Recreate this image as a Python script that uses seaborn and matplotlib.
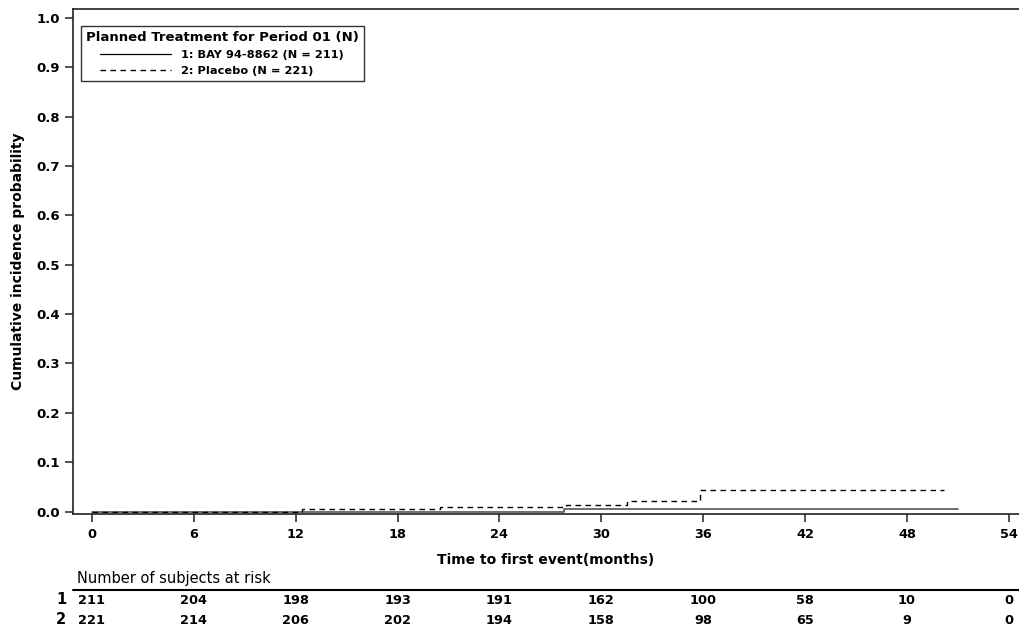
import numpy as np
import pandas as pd
import matplotlib
matplotlib.use("Agg")
import matplotlib.pyplot as plt
import matplotlib.transforms as mtransforms
import seaborn as sns

# ---- data ----
group_labels = ["1: BAY 94-8862 (N = 211)", "2: Placebo (N = 221)"]
bay_time = [0.0, 27.8, 51.0]
bay_cif = [0.0, 0.0050, 0.0050]
pla_time = [0.0, 12.4, 20.5, 27.9, 31.5, 35.8, 50.2]
pla_cif = [0.0, 0.0047, 0.0095, 0.0145, 0.0225, 0.0430, 0.0430]
x_ticks = [0, 6, 12, 18, 24, 30, 36, 42, 48, 54]
y_ticks = [0.0, 0.1, 0.2, 0.3, 0.4, 0.5, 0.6, 0.7, 0.8, 0.9, 1.0]
risk_bay = [211, 204, 198, 193, 191, 162, 100, 58, 10, 0]
risk_pla = [221, 214, 206, 202, 194, 158, 98, 65, 9, 0]
risk_rows = ["1", "2"]

df = pd.concat([
    pd.DataFrame({"time": bay_time, "cif": bay_cif, "group": group_labels[0]}),
    pd.DataFrame({"time": pla_time, "cif": pla_cif, "group": group_labels[1]}),
], ignore_index=True)

sns.set_theme(style="white")
plt.rcParams['font.family'] = ['DejaVu Sans']
plt.rcParams.update({"text.color": "black", "axes.labelcolor": "black",
                     "xtick.color": "black", "ytick.color": "black"})

W, H = 1019, 628
fig = plt.figure(figsize=(W / 100, H / 100), dpi=100)
ax = fig.add_axes([72.5 / W, 1 - 514 / H, (W - 72.5) / W, (514 - 9) / H])

ax.set_xlim(-1.14, 54.6)
ax.set_ylim(-0.0047, 1.0177)

sub_bay = df[df["group"] == group_labels[0]]
sub_pla = df[df["group"] == group_labels[1]]
sns.lineplot(data=sub_bay, x="time", y="cif", ax=ax, drawstyle="steps-post",
             estimator=None, color="#555555", lw=1.2, label=group_labels[0])
sns.lineplot(data=sub_pla, x="time", y="cif", ax=ax, drawstyle="steps-post",
             estimator=None, color="black", lw=1.0, label=group_labels[1])
ax.lines[1].set_linestyle((0, (4, 3.2)))

# axes styling
for s in ["left", "bottom", "top"]:
    ax.spines[s].set_visible(True)
    ax.spines[s].set_color("#222222")
    ax.spines[s].set_linewidth(1.2)
ax.spines["right"].set_visible(False)

ax.set_xticks(x_ticks)
ax.set_yticks(y_ticks)
ax.set_yticklabels([f"{v:.1f}" for v in y_ticks])
ax.tick_params(axis="both", which="major", direction="out", length=6, width=1.1,
               color="#222222", bottom=True, left=True)
ax.tick_params(axis="y", labelsize=9.5, pad=3)
ax.tick_params(axis="x", labelsize=9.3, pad=4)
for t in ax.get_yticklabels():
    t.set_fontweight("bold")
for t in ax.get_xticklabels():
    t.set_fontweight("bold")

ax.set_xlabel("Time to first event(months)", fontsize=10, fontweight="bold")
ax.set_ylabel("Cumulative incidence probability", fontsize=10, fontweight="bold")
ax.xaxis.set_label_coords(0.5, -(553 - 514) / (514 - 9), transform=ax.transAxes)
ax.yaxis.set_label_coords(-(72.5 - 25) / (W - 72.5), 0.5)

# legend
handles, labels = ax.get_legend_handles_labels()
leg = ax.legend(handles, labels, title="Planned Treatment for Period 01 (N)",
                loc="upper left", bbox_to_anchor=(80.5 / W, 1 - 25.5 / H),
                bbox_transform=fig.transFigure, frameon=True, fancybox=False,
                edgecolor="black", handlelength=6.2, handletextpad=0.9,
                borderpad=0.45, labelspacing=0.55, borderaxespad=0,
                prop={"size": 8.2, "weight": "bold"},
                title_fontproperties={"size": 9.5, "weight": "bold"})
leg.get_frame().set_linewidth(1.0)
leg.legend_handles[0].set_color("black")
leg.legend_handles[0].set_linewidth(0.9)
leg.legend_handles[1].set_linestyle((0, (4, 3.2)))

# at-risk table
trans = mtransforms.blended_transform_factory(ax.transData, fig.transFigure)
fig.text(77 / W, 1 - 578 / H, "Number of subjects at risk", fontsize=10.5,
         va="center", ha="left")
fig.add_artist(plt.Line2D([72.5 / W, 1.0], [1 - 590 / H, 1 - 590 / H],
                          transform=fig.transFigure, color="black", lw=1.5))
for row_lab, vals, ypx in zip(risk_rows, [risk_bay, risk_pla], [600, 620]):
    fig.text(61 / W, 1 - ypx / H, row_lab, fontsize=10.5, fontweight="bold",
             va="center", ha="center")
    for xt, v in zip(x_ticks, vals):
        ax.text(xt, 1 - ypx / H, str(v), transform=trans, fontsize=9.3,
                fontweight="bold", va="center", ha="center", clip_on=False)

fig.savefig("out.png", dpi=100)
